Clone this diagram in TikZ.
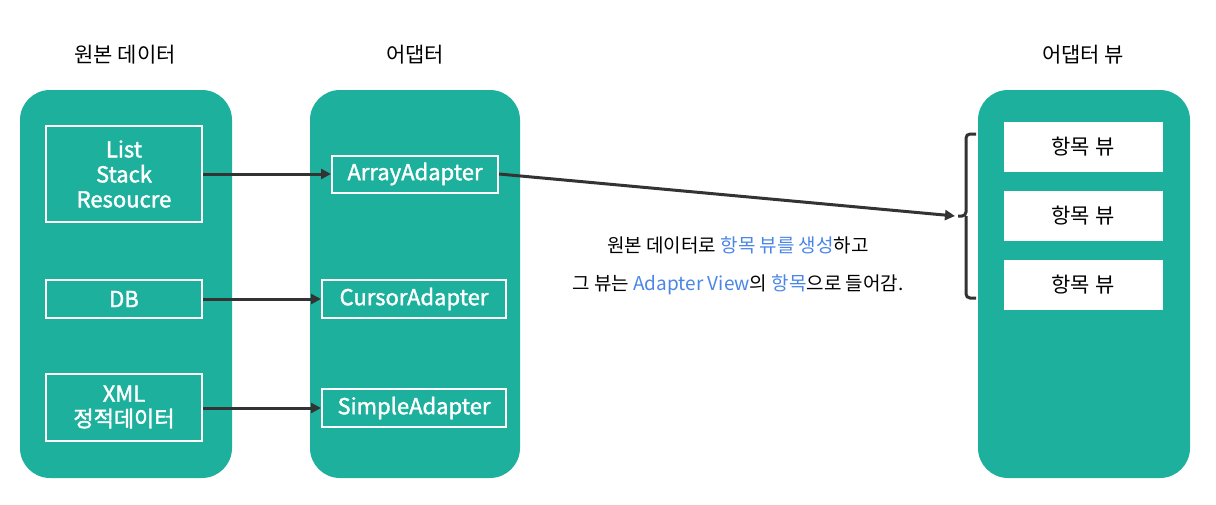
\documentclass[tikz,border=0pt]{standalone}
\usepackage{fontspec}
\setmainfont{Noto Sans CJK KR}
\newfontfamily\kr{Noto Sans CJK KR}
\newfontfamily\krm[FakeBold=1.6]{Noto Sans CJK KR}
\usetikzlibrary{arrows.meta}
\definecolor{teal1}{HTML}{1DB19D}
\definecolor{blu}{HTML}{4A86E8}
\definecolor{dk}{HTML}{333333}
\begin{document}
\begin{tikzpicture}[x=1pt,y=-1pt,
 panel/.style={fill=teal1,rounded corners=30pt},
 inbox/.style={draw=white,line width=2pt,fill=teal1,text=white,font=\fontsize{22}{25}\selectfont\krm,align=center,inner sep=0pt},
 itembox/.style={fill=white,font=\fontsize{21}{24}\selectfont\kr,inner sep=0pt},
 title/.style={font=\fontsize{21}{24}\selectfont\kr},
 arr/.style={draw=dk,line width=3pt,-{Triangle[length=10pt,width=10pt]}}]
\useasboundingbox (0,0) rectangle (1216,504);
\fill[white] (0,0) rectangle (1216,504);
\fill[panel] (20,90) rectangle (232,478);
\fill[panel] (310,90) rectangle (520,478);
\fill[panel] (978,90) rectangle (1190,478);
\node[title] (t1) at (125,55) {원본 데이터};
\node[title] (t2) at (415,55) {어댑터};
\node[title] (t3) at (1083,55) {어댑터 뷰};
\node[inbox,minimum width=156pt,minimum height=96pt] (l1) at (124,174) {List\\Stack\\Resoucre};
\node[inbox,minimum width=156pt,minimum height=38pt] (l2) at (124,299) {DB};
\node[inbox,minimum width=156pt,minimum height=67pt] (l3) at (124,407) {XML\\정적데이터};
\node[inbox,minimum width=166pt,minimum height=37pt] (m1) at (415,174) {ArrayAdapter};
\node[inbox,minimum width=184pt,minimum height=38pt] (m2) at (414,299) {CursorAdapter};
\node[inbox,minimum width=184pt,minimum height=38pt] (m3) at (414,408) {SimpleAdapter};
\draw[arr] (l1.east|-m1) -- (m1.west);
\draw[arr] (l2.east) -- (m2.west);
\draw[arr] (l3.east|-m3) -- (m3.west);
\coordinate (bt) at (955,216);
\draw[arr] (m1.east) -- (bt);
\draw[dk,line width=3pt,rounded corners=4pt] (976,134) -- (966,134) -- (966,216) -- (958,216);
\draw[dk,line width=3pt,rounded corners=4pt] (976,298) -- (966,298) -- (966,216);
\node[itembox,minimum width=159pt,minimum height=50pt] (r1) at (1083,147) {항목 뷰};
\node[itembox,minimum width=159pt,minimum height=50pt] (r2) at (1083,216) {항목 뷰};
\node[itembox,minimum width=159pt,minimum height=50pt] (r3) at (1083,285) {항목 뷰};
\node[font=\fontsize{19}{22}\selectfont\kr] (c1) at (738,245) {원본 데이터로 \textcolor{blu}{항목 뷰를 생성}하고};
\node[font=\fontsize{19}{22}\selectfont\kr] (c2) at (738,285) {그 뷰는 \textcolor{blu}{Adapter View}의 \textcolor{blu}{항목}으로 들어감.};
\end{tikzpicture}
\end{document}
